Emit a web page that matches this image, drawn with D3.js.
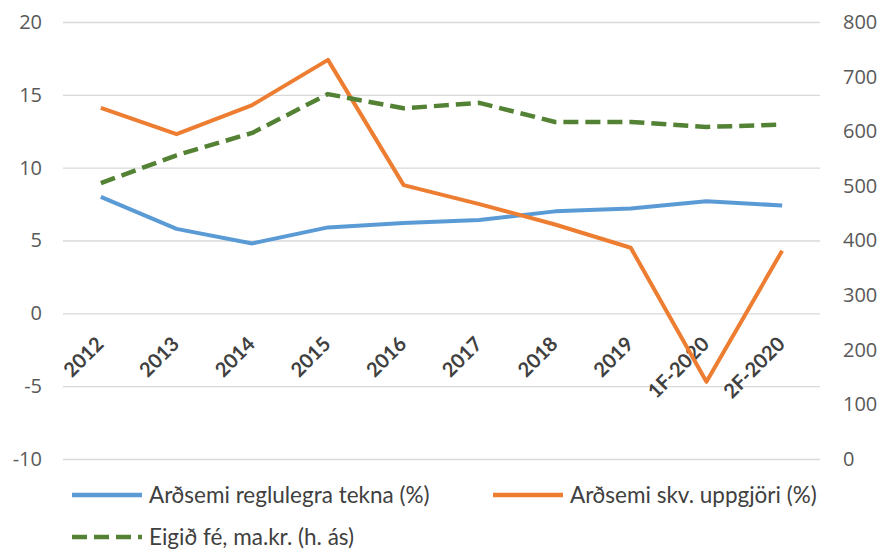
<!DOCTYPE html>
<meta charset="utf-8">
<style>
    body { margin: 0; background: #fff; }
    .axis path { display: none; }
    .axis text { font-family: "Open Sans", sans-serif; font-size: 20px; fill: #595959; }
    .grid line { stroke: #d9d9d9; stroke-width: 1.3px; }
    .grid path { stroke-width: 0; }
    .cat text { font-family: Lato, sans-serif; font-size: 20px; fill: #404040; font-weight: bold; }
    .legend text { font-family: Lato, sans-serif; font-size: 22.5px; fill: #404040; }
    .line { fill: none; stroke-width: 4px; stroke-linejoin: round; }
</style>
<svg width="881" height="551"></svg>
<script src="https://cdn.jsdelivr.net/npm/d3@7"></script>
<script>

    var categories = ["2012", "2013", "2014", "2015", "2016", "2017", "2018", "2019", "1F-2020", "2F-2020"];
    var regluleg = [8.0, 5.8, 4.8, 5.9, 6.2, 6.4, 7.0, 7.2, 7.7, 7.4];     // Arðsemi reglulegra tekna (%)
    var uppgjor = [14.1, 12.3, 14.3, 17.4, 8.8, 7.5, 6.1, 4.5, -4.7, 4.3];  // Arðsemi skv. uppgjöri (%)
    var eigidFe = [505, 556, 597, 668, 642, 652, 617, 617, 608, 612];       // Eigið fé, ma.kr. (h. ás)
    var leftTicks = [-10, -5, 0, 5, 10, 15, 20];
    var rightTicks = [0, 100, 200, 300, 400, 500, 600, 700, 800];

    var svg = d3.select("svg"),
        margin = {top: 22, right: 61, bottom: 92, left: 63},
        width = svg.attr("width") - margin.left - margin.right,
        height = svg.attr("height") - margin.top - margin.bottom,
        g = svg.append("g").attr("transform", "translate(" + margin.left + "," + margin.top + ")");

    var x = d3.scaleBand().domain(categories).range([0, width]),
        yL = d3.scaleLinear().domain([-10, 20]).range([height, 0]),
        yR = d3.scaleLinear().domain([0, 800]).range([height, 0]);

    // gridlines
    g.append("g")
        .attr("class", "grid")
        .call(d3.axisLeft(yL).tickValues(leftTicks).tickSize(-width).tickFormat(""));

    // left axis (plain hyphen for negatives, like the original)
    g.append("g")
        .attr("class", "axis")
        .call(d3.axisLeft(yL).tickValues(leftTicks).tickSize(0).tickPadding(21).tickFormat(String));

    // right axis
    g.append("g")
        .attr("class", "axis")
        .attr("transform", "translate(" + width + ",0)")
        .call(d3.axisRight(yR).tickValues(rightTicks).tickSize(0).tickPadding(23).tickFormat(String));

    // category labels, rotated, just under the zero line
    g.append("g")
        .attr("class", "cat")
        .selectAll("text")
        .data(categories)
        .enter().append("text")
        .attr("transform", function(d) {
            return "translate(" + (x(d) + x.bandwidth() / 2 + 4) + "," + (yL(0) + 32) + ") rotate(-45)";
        })
        .attr("text-anchor", "end")
        .text(function(d) { return d; });

    var cx = function(d, i) { return x(categories[i]) + x.bandwidth() / 2; };

    g.append("path")
        .attr("class", "line")
        .style("stroke", "#5b9bd5")
        .attr("d", d3.line().x(cx).y(function(d) { return yL(d); })(regluleg));

    g.append("path")
        .attr("class", "line")
        .style("stroke", "#ed7d31")
        .attr("d", d3.line().x(cx).y(function(d) { return yL(d); })(uppgjor));

    g.append("path")
        .attr("class", "line")
        .style("stroke", "#548235")
        .style("stroke-width", "4.5px")
        .style("stroke-dasharray", "15 7")
        .attr("d", d3.line().x(cx).y(function(d) { return yR(d); })(eigidFe));

    // legend
    var legendItems = [
        {name: "Arðsemi reglulegra tekna (%)", color: "#5b9bd5", dash: null, x: 72, y: 495},
        {name: "Arðsemi skv. uppgjöri (%)", color: "#ed7d31", dash: null, x: 493, y: 495},
        {name: "Eigið fé, ma.kr. (h. ás)", color: "#548235", dash: "15 7", x: 72, y: 537}
    ];

    var legend = svg.append("g").attr("class", "legend")
        .selectAll("g")
        .data(legendItems)
        .enter().append("g")
        .attr("transform", function(d) { return "translate(" + d.x + "," + d.y + ")"; });

    legend.append("line")
        .attr("x1", 0).attr("x2", 70)
        .style("stroke", function(d) { return d.color; })
        .style("stroke-width", "4.5px")
        .style("stroke-dasharray", function(d) { return d.dash; });

    legend.append("text")
        .attr("x", 77)
        .attr("dy", "0.35em")
        .text(function(d) { return d.name; });

</script>
